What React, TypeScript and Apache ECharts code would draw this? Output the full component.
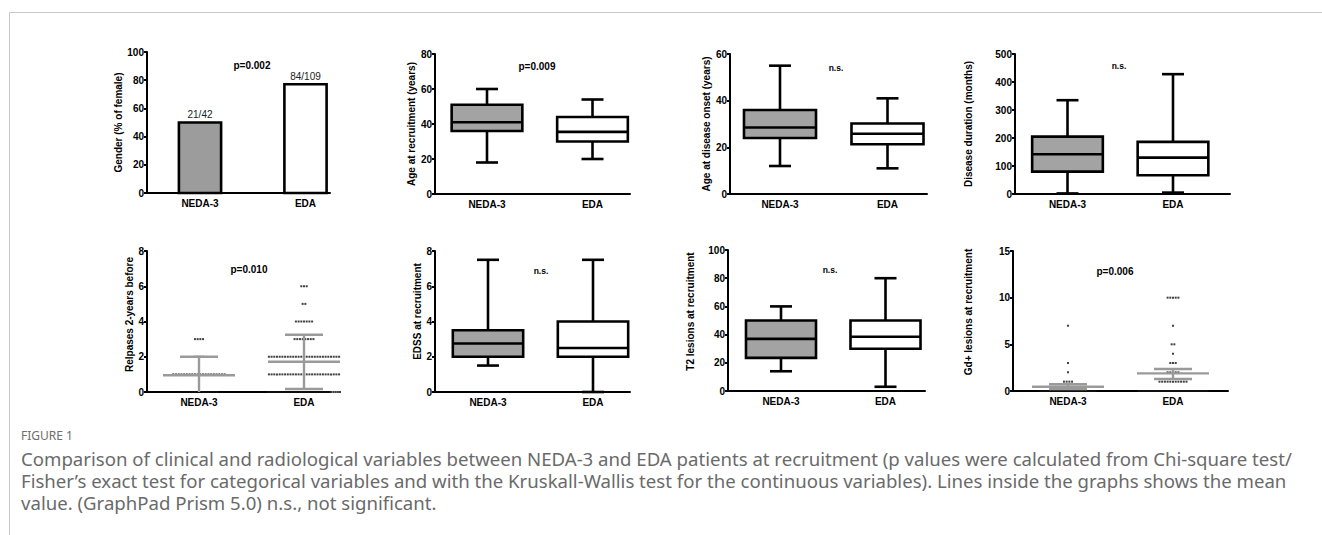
import { useEffect, useRef } from "react";
import * as echarts from "echarts";

const groups = ["NEDA-3", "EDA"];

// Panel 1: gender (% female)
const genderFemalePct = [50, 77.1];
const genderCounts = ["21/42", "84/109"];

// Box plots: [min, Q1, median, Q3, max]
const ageRecruitment = [[18, 36, 41, 51, 60], [20, 30, 35.5, 44, 54]];
const ageOnset = [[12, 24, 28.5, 36, 55], [11, 21.3, 25.8, 30.2, 41]];
const diseaseDuration = [[2, 80, 142, 205, 335], [5, 67, 130, 186, 428]];
const edss = [[1.5, 2, 2.75, 3.5, 7.5], [0, 2, 2.5, 4, 7.5]];
const t2Lesions = [[14, 23.5, 37, 50, 60], [3, 30, 38.5, 50, 80]];

// Column scatter: [value, number of patients]
const relapsesNeda = [[0, 14], [1, 20], [2, 4], [3, 4]];
const relapsesEda = [[0, 35], [1, 27], [2, 27], [3, 8], [4, 7], [5, 2], [6, 3]];
// [mean, lower bar, upper bar]
const relapsesMeanSd = [[0.95, -0.1, 2.0], [1.72, 0.17, 3.25]];
const gdNeda = [[0, 35], [1, 4], [2, 1], [3, 1], [7, 1]];
const gdEda = [[0, 81], [1, 11], [2, 5], [3, 3], [4, 1], [5, 2], [7, 1], [10, 5]];
const gdMeanSem = [[0.46, 0.2, 0.72], [1.89, 1.29, 2.35]];

const yTitles = [
  "Gender (% of female)",
  "Age at recruitment (years)",
  "Age at disease onset (years)",
  "Disease duration (months)",
  "Relpases 2-years before",
  "EDSS at recruitment",
  "T2 lesions at recruitment",
  "Gd+ lesions at recruitment",
];
const yMaxes = [100, 80, 60, 500, 8, 8, 100, 15];
const yIntervals = [20, 20, 20, 100, 2, 2, 20, 5];
const pLabels = ["p=0.002", "p=0.009", "n.s.", "n.s.", "p=0.010", "n.s.", "n.s.", "p=0.006"];

const captionTitle = "FIGURE 1";
const captionLines = [
  "Comparison of clinical and radiological variables between NEDA-3 and EDA patients at recruitment (p values were calculated from Chi-square test/",
  "Fisher\u2019s exact test for categorical variables and with the Kruskall-Wallis test for the continuous variables). Lines inside the graphs shows the mean",
  "value. (GraphPad Prism 5.0) n.s., not significant.",
];

// Layout (pixels)
const layout = [
  { left: 147, top: 52, width: 183, height: 141, c1: 200, sp: 105.5, gap: 24, p: [252, 65], pad: 0 },
  { left: 435, top: 54, width: 195, height: 140, c1: 487, sp: 105.5, gap: 17, p: [537, 66], pad: 0 },
  { left: 730, top: 54, width: 197, height: 140, c1: 780, sp: 107.5, gap: 17, p: [836, 68], pad: 0 },
  { left: 1015, top: 54, width: 215, height: 140, c1: 1067.5, sp: 105.5, gap: 42, p: [1119, 66], pad: 0 },
  { left: 147, top: 251, width: 183, height: 141, c1: 199, sp: 105, gap: 13, p: [249, 269], pad: 14 },
  { left: 435, top: 251, width: 195, height: 141, c1: 488, sp: 105, gap: 12, p: [541, 271], pad: 20 },
  { left: 728, top: 250, width: 197, height: 141, c1: 781, sp: 104.5, gap: 33, p: [830, 270], pad: 18 },
  { left: 1013, top: 251, width: 215, height: 140, c1: 1068, sp: 105, gap: 40, p: [1115, 271], pad: 18 },
];

const GRAY = "#a3a3a3";
const BAR_GRAY = "#9c9c9c";
const LW = 2.6;
const AXIS_FONT = "Liberation Sans, Arial, sans-serif";

function boxRender(params: any, api: any) {
  const i = api.value(0);
  const vals = [1, 2, 3, 4, 5].map((k) => api.value(k));
  const p = vals.map((v) => api.coord([i, v]));
  const x = p[0][0];
  const bw = api.size([1, 0])[0] * 0.67;
  const cw = 22;
  const st = { stroke: "#000", lineWidth: LW };
  return {
    type: "group",
    children: [
      { type: "line", shape: { x1: x, y1: p[4][1], x2: x, y2: p[3][1] }, style: st },
      { type: "line", shape: { x1: x, y1: p[1][1], x2: x, y2: p[0][1] }, style: st },
      { type: "line", shape: { x1: x - cw / 2, y1: p[4][1], x2: x + cw / 2, y2: p[4][1] }, style: st },
      { type: "line", shape: { x1: x - cw / 2, y1: p[0][1], x2: x + cw / 2, y2: p[0][1] }, style: st },
      {
        type: "rect",
        shape: { x: x - bw / 2, y: p[3][1], width: bw, height: p[1][1] - p[3][1] },
        style: { fill: i === 0 ? GRAY : "#fff", stroke: "#000", lineWidth: LW },
      },
      { type: "line", shape: { x1: x - bw / 2, y1: p[2][1], x2: x + bw / 2, y2: p[2][1] }, style: st },
    ],
  };
}

function barRender(params: any, api: any) {
  const i = api.value(0);
  const top = api.coord([i, api.value(1)]);
  const base = api.coord([i, 0]);
  const bw = api.size([1, 0])[0] * 0.4;
  return {
    type: "group",
    children: [
      {
        type: "rect",
        shape: { x: top[0] - bw / 2, y: top[1], width: bw, height: base[1] - top[1] },
        style: { fill: i === 0 ? BAR_GRAY : "#fff", stroke: "#000", lineWidth: LW },
      },
      {
        type: "text",
        style: {
          text: genderCounts[params.dataIndex],
          x: top[0],
          y: top[1] - 3,
          align: "center",
          verticalAlign: "bottom",
          fill: "#222",
          font: "10px " + AXIS_FONT,
        },
      },
    ],
  };
}

function meanRender(params: any, api: any) {
  const i = api.value(0);
  const m = api.coord([i, api.value(1)]);
  const loV = api.value(2);
  const lo = api.coord([i, Math.max(loV, 0)]);
  const hi = api.coord([i, api.value(3)]);
  const x = m[0];
  const mw = 72;
  const cw = 38;
  const st = { stroke: "#9a9a9a", lineWidth: 2.4 };
  const children: any[] = [
    { type: "line", shape: { x1: x, y1: lo[1], x2: x, y2: hi[1] }, style: st },
    { type: "line", shape: { x1: x - mw / 2, y1: m[1], x2: x + mw / 2, y2: m[1] }, style: st },
    { type: "line", shape: { x1: x - cw / 2, y1: hi[1], x2: x + cw / 2, y2: hi[1] }, style: st },
  ];
  if (loV >= 0) {
    children.push({ type: "line", shape: { x1: x - cw / 2, y1: lo[1], x2: x + cw / 2, y2: lo[1] }, style: st });
  }
  return { type: "group", children };
}

function dotData(rows: number[][], idx: number, maxW: number) {
  const out: any[] = [];
  rows.forEach(([v, n]) => {
    const sp = n > 1 ? Math.min(2.7, maxW / (n - 1)) : 0;
    for (let k = 0; k < n; k++) {
      out.push({ value: [idx, v], symbolOffset: [(k - (n - 1) / 2) * sp, 0] });
    }
  });
  return out;
}

export default function App() {
  const ref = useRef<HTMLDivElement>(null);

  useEffect(() => {
    if (!ref.current) return;
    const chart = echarts.init(ref.current, undefined, { renderer: "svg" });

    const grid = layout.map((l) => ({ left: l.left, top: l.top, width: l.width, height: l.height }));
    const xAxis = layout.map((l, gi) => {
      const min = -(l.c1 - l.left) / l.sp;
      return {
        type: "value",
        gridIndex: gi,
        min,
        max: min + l.width / l.sp,
        splitLine: { show: false },
        axisLine: { show: true, onZero: false, lineStyle: { color: "#000", width: 2 } },
        axisTick: { show: false },
        axisLabel: {
          customValues: [0, 1],
          formatter: (v: number) => groups[Math.round(v)] ?? "",
          color: "#000",
          fontWeight: "bold",
          fontSize: 10,
          fontFamily: AXIS_FONT,
          margin: 5,
        },
      };
    });
    const yAxis = layout.map((l, gi) => ({
      type: "value",
      gridIndex: gi,
      min: 0,
      max: yMaxes[gi],
      interval: yIntervals[gi],
      name: yTitles[gi],
      nameLocation: "middle",
      nameGap: l.gap,
      nameTextStyle: {
        color: "#000",
        fontWeight: "bold",
        fontSize: 10,
        fontFamily: AXIS_FONT,
        padding: [0, 0, 0, l.pad],
      },
      splitLine: { show: false },
      axisLine: { show: true, onZero: false, lineStyle: { color: "#000", width: 2 } },
      axisTick: { show: true, length: 3, lineStyle: { color: "#000", width: 2 } },
      axisLabel: { color: "#000", fontWeight: "bold", fontSize: 10, fontFamily: AXIS_FONT, margin: 3 },
    }));

    const boxPanels: [number, number[][]][] = [
      [1, ageRecruitment],
      [2, ageOnset],
      [3, diseaseDuration],
      [5, edss],
      [6, t2Lesions],
    ];

    const series: any[] = [
      {
        type: "custom",
        xAxisIndex: 0,
        yAxisIndex: 0,
        renderItem: barRender,
        encode: { x: 0, y: 1 },
        data: genderFemalePct.map((v, i) => [i, v]),
      },
      ...boxPanels.map(([gi, data]) => ({
        type: "custom",
        xAxisIndex: gi,
        yAxisIndex: gi,
        renderItem: boxRender,
        encode: { x: 0, y: [1, 2, 3, 4, 5] },
        data: data.map((b, i) => [i, ...b]),
      })),
      {
        type: "scatter",
        xAxisIndex: 4,
        yAxisIndex: 4,
        symbol: "rect",
        symbolSize: 2,
        itemStyle: { color: "#111" },
        z: 2,
        data: [...dotData(relapsesNeda, 0, 60), ...dotData(relapsesEda, 1, 72)],
      },
      {
        type: "custom",
        xAxisIndex: 4,
        yAxisIndex: 4,
        z: 3,
        renderItem: meanRender,
        encode: { x: 0, y: [1, 2, 3] },
        data: relapsesMeanSd.map((r, i) => [i, ...r]),
      },
      {
        type: "scatter",
        xAxisIndex: 7,
        yAxisIndex: 7,
        symbol: "rect",
        symbolSize: 2,
        itemStyle: { color: "#111" },
        z: 2,
        data: [...dotData(gdNeda, 0, 55), ...dotData(gdEda, 1, 69)],
      },
      {
        type: "custom",
        xAxisIndex: 7,
        yAxisIndex: 7,
        z: 3,
        renderItem: meanRender,
        encode: { x: 0, y: [1, 2, 3] },
        data: gdMeanSem.map((r, i) => [i, ...r]),
      },
    ];

    const graphic: any[] = [
      { type: "line", shape: { x1: 9.5, y1: 12.5, x2: 1322, y2: 12.5 }, style: { stroke: "#c8c8c8", lineWidth: 1 } },
      { type: "line", shape: { x1: 9.5, y1: 12.5, x2: 9.5, y2: 535 }, style: { stroke: "#c8c8c8", lineWidth: 1 } },
      ...layout.map((l, gi) => ({
        type: "text",
        x: l.p[0],
        y: l.p[1],
        style: {
          text: pLabels[gi],
          align: "center",
          verticalAlign: "middle",
          fill: "#000",
          font: (pLabels[gi].startsWith("p") ? "bold 10px " : "bold 8.5px ") + AXIS_FONT,
        },
      })),
      {
        type: "text",
        x: 21,
        y: 435,
        style: { text: captionTitle, verticalAlign: "middle", fill: "#6e6e6e", font: "12px 'Noto Sans', sans-serif" },
      },
      ...captionLines.map((t, k) => ({
        type: "text",
        x: 21,
        y: 459 + k * 22,
        scaleX: 1.07,
        style: { text: t, verticalAlign: "middle", fill: "#6a6a6a", font: "17.4px 'Noto Sans', sans-serif" },
      })),
    ];

    chart.setOption({ animation: false, grid, xAxis, yAxis, series, graphic });
    return () => chart.dispose();
  }, []);

  return (
    <div
      ref={ref}
      style={{ position: "absolute", left: 0, top: 0, width: 1322, height: 535, background: "#fff" }}
    />
  );
}
